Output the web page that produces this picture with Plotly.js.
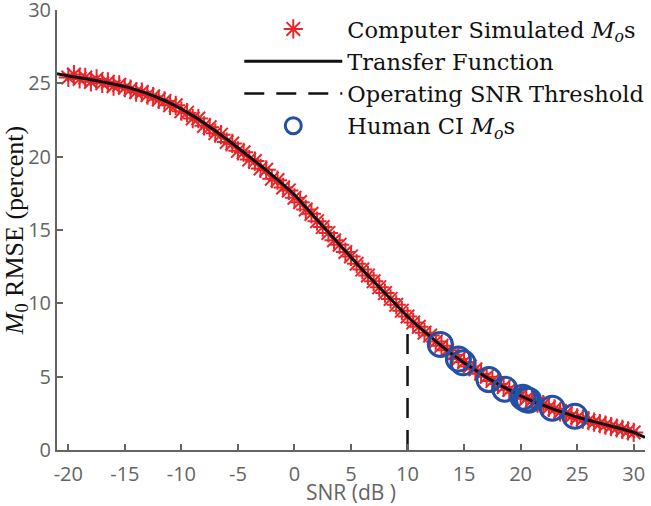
<!DOCTYPE html>
<html>
<head>
<meta charset="utf-8">
<script src="https://cdn.plot.ly/plotly-3.0.1.min.js"></script>
<style>html,body{margin:0;padding:0;background:#fff;}#chart{width:651px;height:506px;}</style>
</head>
<body>
<div id="chart"></div>
<script>
// Transfer function (solid black curve), sampled every 1 dB
const tfSNR = [-21,-20,-19,-18,-17,-16,-15,-14,-13,-12,-11,-10,-9,-8,-7,-6,-5,-4,-3,-2,-1,0,1,2,3,4,5,6,7,8,9,10,11,12,13,14,15,16,17,18,19,20,21,22,23,24,25,26,27,28,29,30,31];
const tfRMSE = [25.65,25.5,25.38,25.25,25.1,24.95,24.78,24.55,24.3,24.0,23.65,23.25,22.8,22.3,21.75,21.2,20.6,20.0,19.4,18.75,18.1,17.4,16.55,15.7,14.85,14.0,13.15,12.3,11.5,10.7,9.9,9.1,8.4,7.75,7.1,6.5,5.95,5.45,4.95,4.5,4.1,3.7,3.35,3.05,2.75,2.5,2.25,2.03,1.83,1.63,1.43,1.2,0.85];

// Computer simulated Mos (red asterisks), every 0.5 dB
const simSNR = [-20,-19.5,-19,-18.5,-18,-17.5,-17,-16.5,-16,-15.5,-15,-14.5,-14,-13.5,-13,-12.5,-12,-11.5,-11,-10.5,-10,-9.5,-9,-8.5,-8,-7.5,-7,-6.5,-6,-5.5,-5,-4.5,-4,-3.5,-3,-2.5,-2,-1.5,-1,-0.5,0,0.5,1,1.5,2,2.5,3,3.5,4,4.5,5,5.5,6,6.5,7,7.5,8,8.5,9,9.5,10,10.5,11,11.5,12,12.5,13,13.5,14,14.5,15,15.5,16,16.5,17,17.5,18,18.5,19,19.5,20,20.5,21,21.5,22,22.5,23,23.5,24,24.5,25,25.5,26,26.5,27,27.5,28,28.5,29,29.5,30];
const simRMSE = [25.4,25.6,25.3,25.4,25.1,25.3,25.0,25.1,24.8,24.9,24.7,24.6,24.4,24.4,24.2,24.1,23.9,23.8,23.5,23.5,23.1,23.0,22.6,22.6,22.1,22.0,21.6,21.5,21.0,20.9,20.4,20.3,19.8,19.7,19.2,19.1,18.5,18.4,17.9,17.7,17.2,16.9,16.4,16.1,15.6,15.2,14.8,14.3,14.0,13.5,13.2,12.7,12.3,11.9,11.5,11.1,10.7,10.3,9.9,9.5,9.1,8.7,8.4,8.0,7.8,7.4,7.1,6.8,6.5,6.2,6.0,5.7,5.5,5.2,5.0,4.7,4.5,4.3,4.1,3.9,3.7,3.5,3.4,3.2,3.1,2.9,2.8,2.6,2.5,2.3,2.2,2.1,2.0,1.9,1.8,1.7,1.6,1.5,1.4,1.3,1.2];

// Human CI Mos (blue circles)
const ciSNR = [12.9,14.5,14.9,17.2,18.6,20.2,20.5,20.7,22.8,24.8];
const ciRMSE = [7.2,6.2,5.95,4.8,4.15,3.6,3.45,3.4,2.85,2.3];

// Operating SNR threshold (dashed vertical)
const thrSNR = [10,10];
const thrRMSE = [0,8.3];

const xTicks = [-20,-15,-10,-5,0,5,10,15,20,25,30];
const yTicks = [0,5,10,15,20,25,30];

const red = 'rgb(232,38,42)';
const blue = 'rgb(35,80,165)';
const gray = 'rgb(100,100,100)';

const traces = [
  {x: thrSNR, y: thrRMSE, type: 'scatter', mode: 'lines', name: 'Operating SNR Threshold',
   line: {color: '#111', width: 2.5, dash: '20px,12px'}, legendrank: 3},
  {x: simSNR, y: simRMSE, type: 'scatter', mode: 'markers', name: 'Computer Simulated <i>M<sub>o</sub></i>s',
   marker: {symbol: 'asterisk-open', size: 16, color: red, line: {color: red, width: 2}}, legendrank: 1},
  {x: tfSNR, y: tfRMSE, type: 'scatter', mode: 'lines', name: 'Transfer Function',
   line: {color: '#111', width: 3, shape: 'spline'}, legendrank: 2},
  {x: ciSNR, y: ciRMSE, type: 'scatter', mode: 'markers', name: 'Human CI <i>M<sub>o</sub></i>s',
   marker: {symbol: 'circle-open', size: 24, color: blue, line: {color: blue, width: 3}}, legendrank: 4}
];

const layout = {
  width: 651, height: 506,
  margin: {l: 57, r: 6, t: 10, b: 56, autoexpand: false},
  paper_bgcolor: '#fff', plot_bgcolor: '#fff',
  showlegend: true,
  legend: {x: 0.31, xanchor: 'left', y: 1.005, yanchor: 'top', bgcolor: 'rgba(0,0,0,0)',
           borderwidth: 0, itemwidth: 98, traceorder: 'normal',
           font: {family: 'DejaVu Serif, serif', size: 22.5, color: '#111'}},
  xaxis: {range: [-21, 31], tickvals: xTicks, ticktext: xTicks.map(String),
          showline: true, linecolor: gray, linewidth: 2, showgrid: false, zeroline: false,
          ticks: 'inside', ticklen: 6, tickwidth: 2, tickcolor: gray, ticklabelstandoff: 5,
          tickfont: {family: 'Open Sans, sans-serif', size: 20, color: gray},
          title: {text: 'SNR (dB )', standoff: 0, font: {family: 'Open Sans, sans-serif', size: 21, color: gray}}},
  yaxis: {range: [0, 30], tickvals: yTicks, ticktext: yTicks.map(String), ticklabeloverflow: 'allow',
          showline: true, linecolor: gray, linewidth: 2, showgrid: false, zeroline: false,
          ticks: 'inside', ticklen: 6, tickwidth: 2, tickcolor: gray,
          tickfont: {family: 'Open Sans, sans-serif', size: 20, color: gray},
          title: {text: '<i>M</i><sub>0</sub> RMSE (percent)', standoff: 3, font: {family: 'Liberation Serif, serif', size: 26, color: '#111'}}}
};

Plotly.newPlot('chart', traces, layout, {displayModeBar: false, staticPlot: true});
</script>
</body>
</html>
